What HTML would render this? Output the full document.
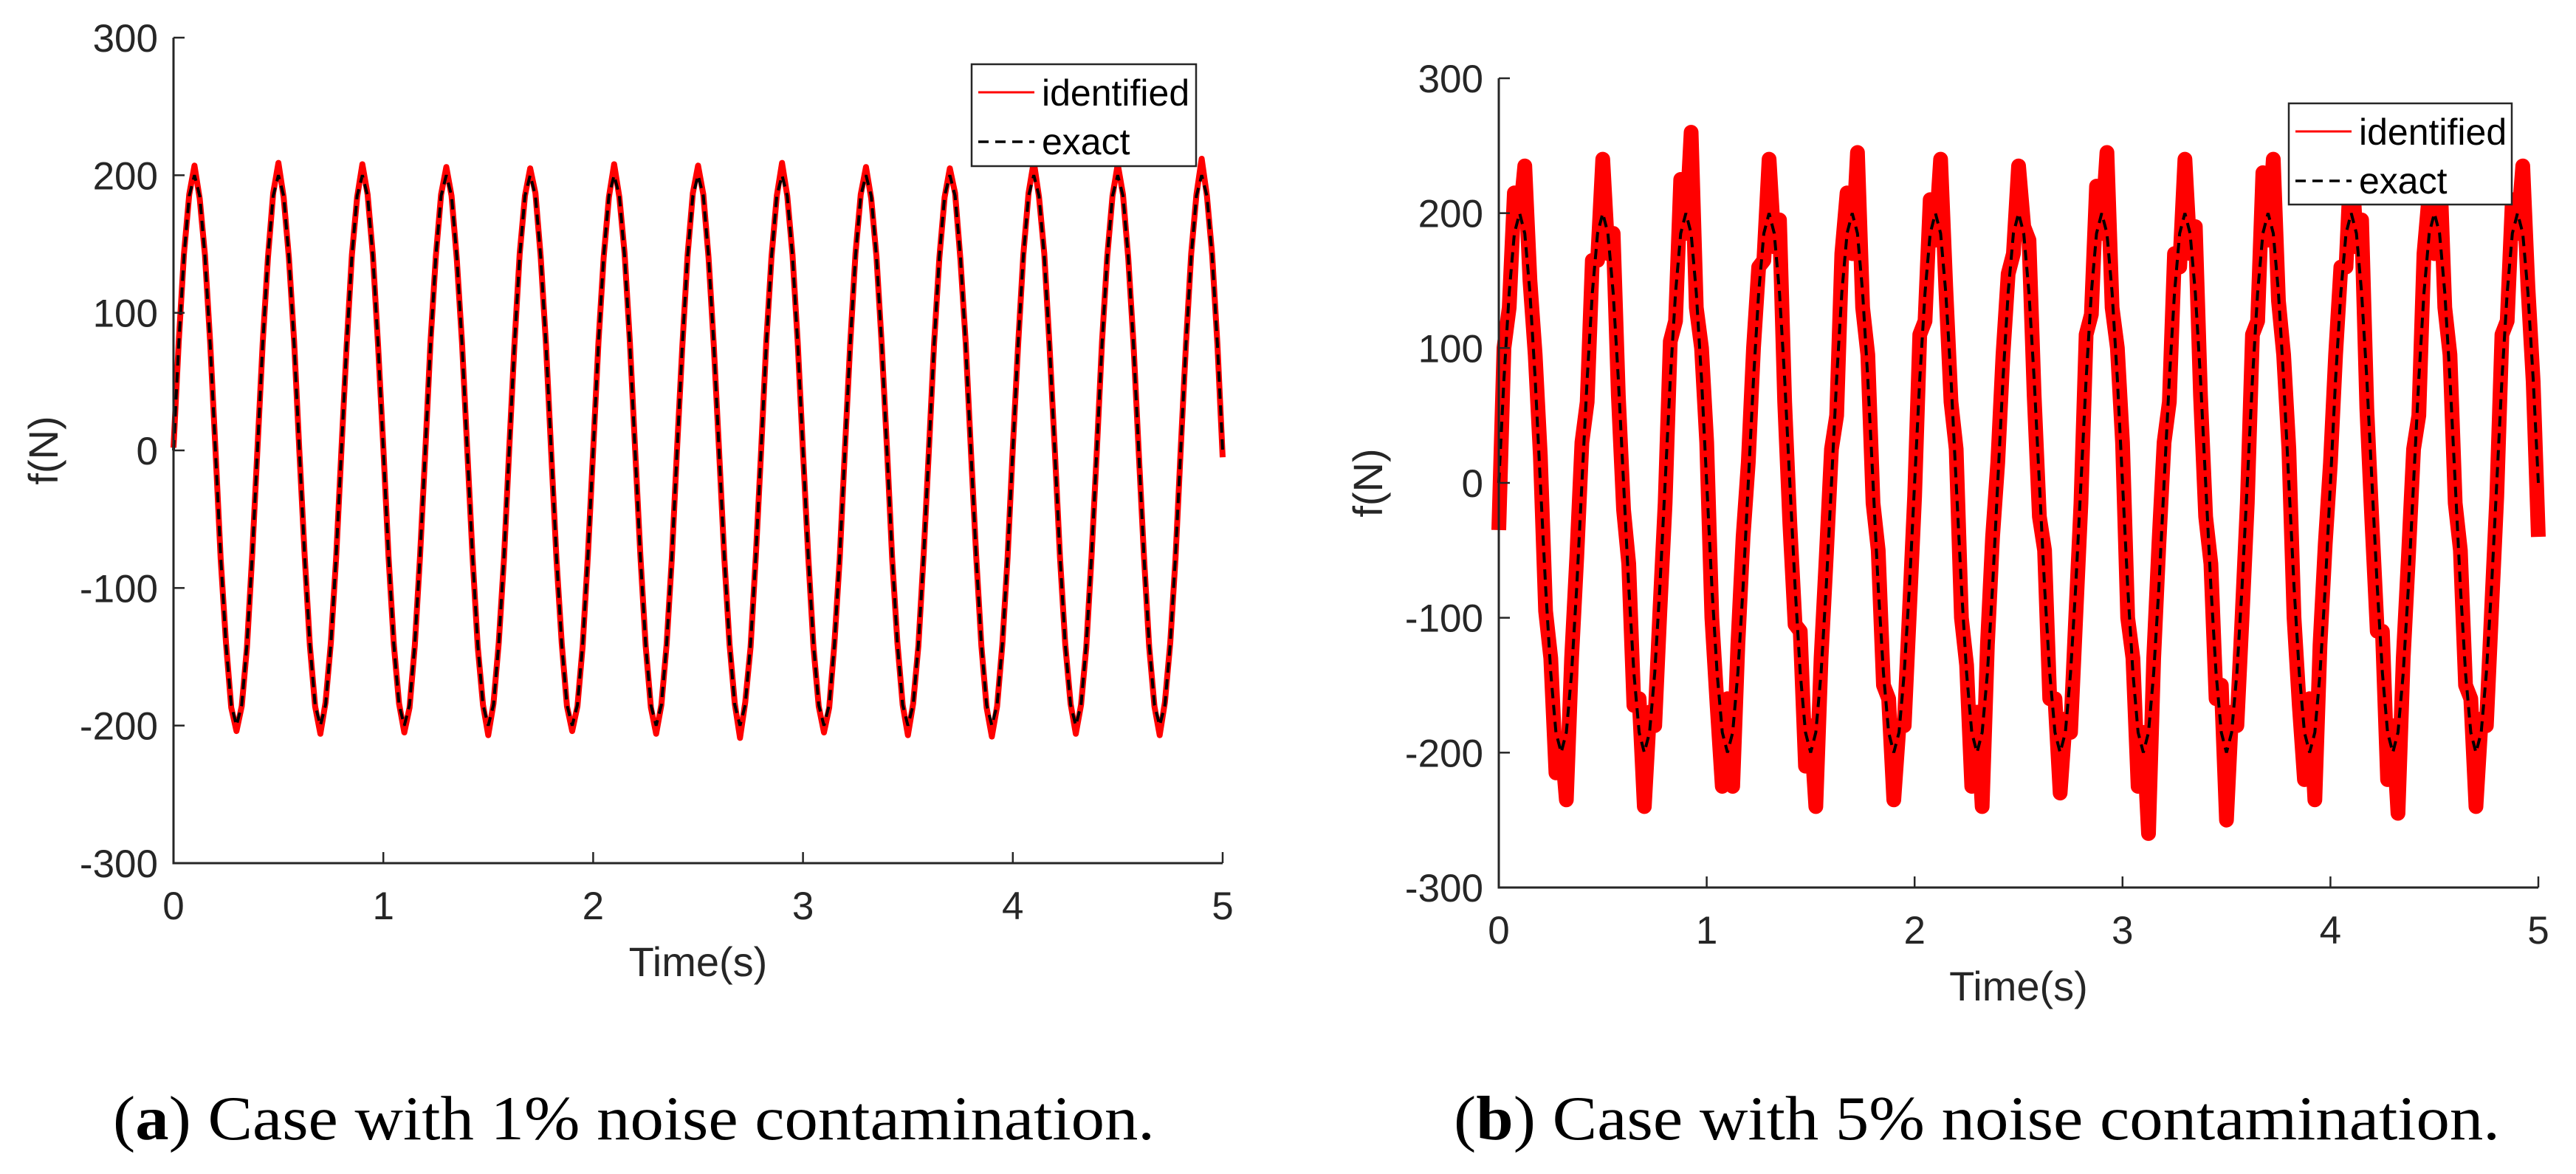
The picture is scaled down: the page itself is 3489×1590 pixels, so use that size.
<!DOCTYPE html>
<html><head><meta charset="utf-8">
<style>
html,body{margin:0;padding:0;background:#fff;}
svg{display:block;}
text{font-family:"Liberation Sans",Arial,sans-serif;fill:#262626;}
.cap{font-family:"Liberation Serif","Times New Roman",serif;fill:#000;}
</style></head>
<body>
<svg id="fig" width="3489" height="1590" viewBox="0 0 3489 1590" xmlns="http://www.w3.org/2000/svg">
<g id="panelA"></g>
<g id="panelB"></g>
<text class="cap" x="153" y="1543" font-size="85" textLength="1411" lengthAdjust="spacingAndGlyphs">(<tspan font-weight="bold">a</tspan>) Case with 1% noise contamination.</text>
<text class="cap" x="1969" y="1543" font-size="85" textLength="1417" lengthAdjust="spacingAndGlyphs">(<tspan font-weight="bold">b</tspan>) Case with 5% noise contamination.</text>
</svg>
<script>
const xTicks = [0, 1, 2, 3, 4, 5];
const yTicks = [-300, -200, -100, 0, 100, 200, 300];
const tStep = 0.025;
const exactA = [
0,77,141,185,200,185,141,77,0,-77,-141,-185,-200,-185,-141,-77,
0,77,141,185,200,185,141,77,0,-77,-141,-185,-200,-185,-141,-77,
0,77,141,185,200,185,141,77,0,-77,-141,-185,-200,-185,-141,-77,
0,77,141,185,200,185,141,77,0,-77,-141,-185,-200,-185,-141,-77,
0,77,141,185,200,185,141,77,0,-77,-141,-185,-200,-185,-141,-77,
0,77,141,185,200,185,141,77,0,-77,-141,-185,-200,-185,-141,-77,
0,77,141,185,200,185,141,77,0,-77,-141,-185,-200,-185,-141,-77,
0,77,141,185,200,185,141,77,0,-77,-141,-185,-200,-185,-141,-77,
0,77,141,185,200,185,141,77,0,-77,-141,-185,-200,-185,-141,-77,
0,77,141,185,200,185,141,77,0,-77,-141,-185,-200,-185,-141,-77,
0,77,141,185,200,185,141,77,0,-77,-141,-185,-200,-185,-141,-77,
0,77,141,185,200,185,141,77,0,-77,-141,-185,-200,-185,-141,-77,
0,77,141,185,200,185,141,77,0];
const identA = [
2,79,143,186,207,183,142,78,1,-79,-140,-187,-204,-186,-143,-76,
1,78,140,187,209,184,140,79,-1,-76,-142,-186,-206,-183,-140,-78,
0,76,142,184,208,186,142,76,2,-78,-141,-184,-205,-187,-142,-77,
-1,79,141,186,206,185,139,78,0,-77,-143,-185,-207,-184,-140,-79,
1,77,143,185,205,187,141,77,-2,-79,-140,-186,-204,-186,-142,-76,
0,78,140,184,208,184,143,79,1,-76,-142,-187,-206,-185,-141,-78,
2,76,142,187,207,186,140,76,0,-78,-141,-184,-209,-183,-143,-77,
-1,79,141,185,209,185,142,78,-1,-77,-143,-186,-205,-187,-140,-79,
1,77,143,186,206,183,141,77,2,-79,-140,-185,-207,-184,-142,-76,
0,78,140,184,205,187,139,79,0,-76,-142,-187,-208,-186,-141,-78,
2,76,142,187,210,184,143,76,1,-78,-141,-184,-206,-185,-143,-77,
-1,79,141,185,208,186,140,78,-1,-77,-143,-186,-207,-183,-140,-79,
1,77,143,186,212,185,142,77,-5];
const exactB = exactA;
const identB = [
-35,100,130,215,195,235,150,95,20,-95,-130,-215,-190,-235,-130,-55,
30,60,165,165,240,170,185,65,-20,-60,-165,-160,-240,-170,-180,-95,
-15,105,120,225,185,260,130,100,30,-100,-165,-225,-160,-225,-120,-40,
15,100,160,165,240,175,195,60,-30,-105,-110,-210,-180,-240,-130,-55,
25,50,170,215,170,245,130,95,-15,-50,-150,-160,-235,-180,-180,-95,
-10,110,120,210,180,240,145,60,25,-100,-135,-225,-170,-240,-120,-40,
15,95,155,170,235,190,180,65,-25,-50,-160,-160,-230,-175,-185,-100,
-15,110,125,220,185,245,130,100,30,-100,-130,-225,-185,-260,-130,-45,
30,60,170,160,240,170,190,65,-25,-60,-160,-150,-250,-170,-180,-100,
-15,110,120,230,180,240,135,95,25,-100,-165,-220,-160,-235,-120,-45,
15,95,160,160,245,175,195,55,-30,-110,-110,-220,-180,-245,-130,-55,
25,50,170,215,170,240,130,95,-15,-50,-150,-160,-240,-175,-180,-95,
-10,110,120,210,185,235,145,75,-40];

const NS = 'http://www.w3.org/2000/svg';
function mk(parent, tag, attrs) {
  const e = document.createElementNS(NS, tag);
  for (const k in attrs) e.setAttribute(k, attrs[k]);
  parent.appendChild(e);
  return e;
}

function drawPanel(g, cfg, exact, ident) {
  const xScale = t => cfg.x0 + (t - 0) / 5 * (cfg.x1 - cfg.x0);
  const yScale = v => cfg.yTop + (300 - v) / 600 * (cfg.yBot - cfg.yTop);

  let dI = '';
  ident.forEach((v, i) => { dI += (i ? 'L' : 'M') + xScale(i * tStep).toFixed(1) + ' ' + yScale(v).toFixed(1); });
  const red = mk(g, 'path', {d: dI, fill: 'none', stroke: '#ff0000', 'stroke-width': cfg.redW, 'stroke-linejoin': 'round', 'stroke-linecap': 'butt'});
  
  
  let dE = '';
  exact.forEach((v, i) => { dE += (i ? 'L' : 'M') + xScale(i * tStep).toFixed(1) + ' ' + yScale(v).toFixed(1); });
  const blk = mk(g, 'path', {d: dE, fill: 'none', stroke: '#000', 'stroke-width': 4, 'stroke-dasharray': '14 9'});
  
  

  const ax = mk(g, 'path', {d: `M${cfg.x0} ${cfg.yTop}L${cfg.x0} ${cfg.yBot}L${cfg.x1} ${cfg.yBot}`, fill: 'none', stroke: '#262626', 'stroke-width': 3});
  
  

  yTicks.forEach(v => {
    const y = yScale(v);
    const tk = mk(g, 'line', {x1: cfg.x0, x2: cfg.x0 + 15, y1: y, y2: y, stroke: '#262626', 'stroke-width': 2.5});
    
    
    const lb = mk(g, 'text', {x: cfg.x0 - 21, y: y + 19, 'font-size': 53, 'text-anchor': 'end'});
    lb.textContent = v;
    
    
  });
  xTicks.forEach(t => {
    const x = xScale(t);
    const tk = mk(g, 'line', {x1: x, x2: x, y1: cfg.yBot, y2: cfg.yBot - 15, stroke: '#262626', 'stroke-width': 2.5});
    
    
    const lb = mk(g, 'text', {x: x, y: cfg.yBot + 76, 'font-size': 53, 'text-anchor': 'middle'});
    lb.textContent = t;
    
    
  });

  const xt = mk(g, 'text', {x: (cfg.x0 + cfg.x1) / 2, y: cfg.yBot + 153, 'font-size': 56, 'text-anchor': 'middle'});
  xt.textContent = 'Time(s)';
  
  
  const yc = (cfg.yTop + cfg.yBot) / 2;
  const yt = mk(g, 'text', {x: cfg.yLabX, y: yc, 'font-size': 56, 'text-anchor': 'middle', transform: `rotate(-90 ${cfg.yLabX} ${yc})`});
  yt.textContent = 'f(N)';
  
  

  const L = cfg.leg;
  const lg = mk(g, 'g', {});
  
  
  mk(lg, 'rect', {x: L.x, y: L.y, width: L.w, height: L.h, fill: '#fff', stroke: '#262626', 'stroke-width': 2.5});
  mk(lg, 'line', {x1: L.x + 9, x2: L.x + 85, y1: L.y + 38, y2: L.y + 38, stroke: '#ff0000', 'stroke-width': 3});
  mk(lg, 'line', {x1: L.x + 9, x2: L.x + 85, y1: L.y + 105, y2: L.y + 105, stroke: '#000', 'stroke-width': 3.5, 'stroke-dasharray': '14 9'});
  const t1 = mk(lg, 'text', {x: L.x + 95, y: L.y + 56, 'font-size': 50, style: 'fill:#000'});
  t1.textContent = 'identified';
  
  
  const t2 = mk(lg, 'text', {x: L.x + 95, y: L.y + 122, 'font-size': 50, style: 'fill:#000'});
  t2.textContent = 'exact';
  
  
}

drawPanel(document.getElementById('panelA'),
  {x0: 235, x1: 1656, yTop: 51, yBot: 1169, yLabX: 78, redW: 8,
   leg: {x: 1316, y: 87, w: 304, h: 138}}, exactA, identA);
drawPanel(document.getElementById('panelB'),
  {x0: 2030, x1: 3438, yTop: 106, yBot: 1202, yLabX: 1872, redW: 20,
   leg: {x: 3100, y: 140, w: 302, h: 137}}, exactB, identB);
</script>
</body></html>
